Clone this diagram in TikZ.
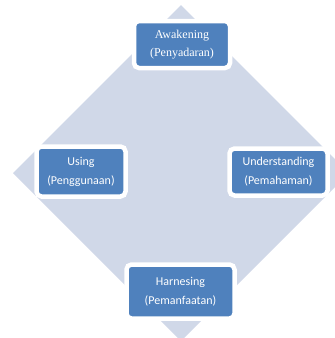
\documentclass[tikz,border=0pt]{standalone}
\usepackage{fontspec}
\setmainfont{Liberation Serif}
\newfontfamily\bodyfont{Carlito}
\definecolor{diamondfill}{HTML}{D0D8E8}
\definecolor{stagefill}{HTML}{4F81BD}
\tikzset{
  stage/.style={draw=white,line width=4.5pt,fill=stagefill,rounded corners=5pt,
    text=white,align=center,font=\bodyfont\fontsize{12}{19}\selectfont,inner sep=0pt},
}
\begin{document}
\begin{tikzpicture}[x=1pt,y=-1pt]
    \useasboundingbox (0,0) rectangle (335,338);
    \clip (0,0) rectangle (335,338);
    \fill[diamondfill] (181,5)--(349,173)--(181,341)--(13,173)--cycle;
    \node[stage,minimum width=96pt,minimum height=47pt,font=\rmfamily\fontsize{12}{18}\selectfont] (awake) at (182,44.5) {Awakening\\(Penyadaran)};
    \node[stage,minimum width=89pt,minimum height=50pt] (use) at (81,171.5) {Using\\(Penggunaan)};
    \node[stage,minimum width=98pt,minimum height=47pt] (under) at (278.5,172) {Understanding\\(Pemahaman)};
    \node[stage,minimum width=108pt,minimum height=54pt] (harness) at (180.5,291.5) {Harnesing\\(Pemanfaatan)};
\end{tikzpicture}
\end{document}
